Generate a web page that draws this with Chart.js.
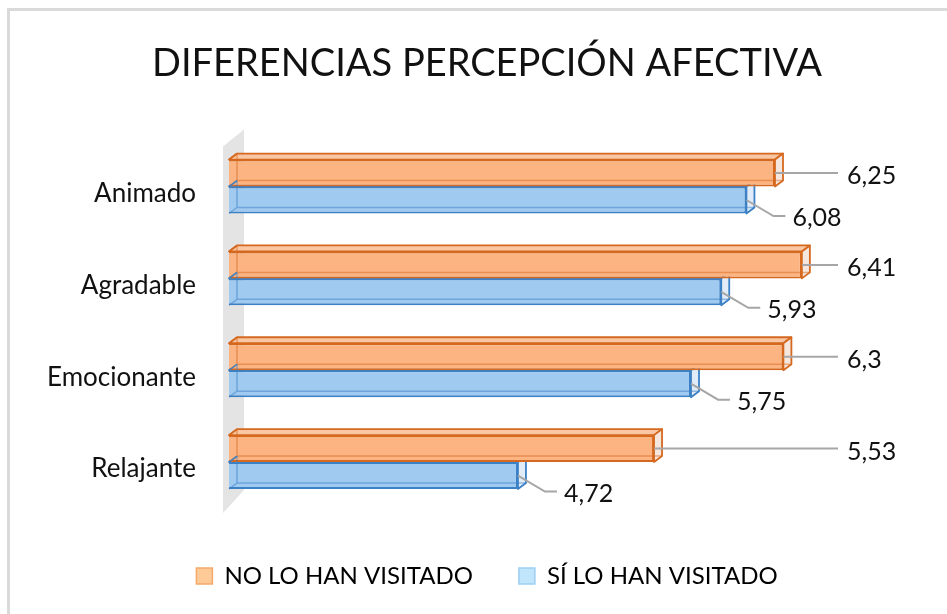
<!DOCTYPE html>
<html>
<head>
<meta charset="utf-8">
<script src="https://cdn.jsdelivr.net/npm/chart.js@4.4.0/dist/chart.umd.min.js"></script>
<style>
  html, body { margin: 0; padding: 0; background: #fff; }
</style>
</head>
<body>
<canvas id="chart" width="947" height="614"></canvas>
<script>
// Datos del gráfico
const categorias = ['Animado', 'Agradable', 'Emocionante', 'Relajante'];
const noVisitado = [6.25, 6.41, 6.3, 5.53];
const siVisitado = [6.08, 5.93, 5.75, 4.72];
const nombresSeries = ['NO LO HAN VISITADO', 'SÍ LO HAN VISITADO'];
const ejeMin = 3;
const ejeMax = 7;

const FUENTE = 'Lato, "Open Sans", sans-serif';
const DX = 8, DY = -6; // profundidad del efecto 3D

// colores por serie (cara frontal, superior, lateral, borde, leyenda)
const estilos = [
    { front: '#fbb482', top: '#f9c7a3', end: '#f5e6de', edge: '#d5691f', hidden: 'rgba(213,105,31,0.5)', legFill: '#fdca98', legEdge: '#f5a96b' },
    { front: '#a0caf0', top: '#c0dbf4', end: '#e1ecf8', edge: '#3c80c5', hidden: 'rgba(60,128,197,0.5)', legFill: '#c1e6fc', legEdge: '#9ccff2' }
];

const coma = v => String(v).replace('.', ',');

function poly(ctx, pts, fill, stroke) {
    ctx.beginPath();
    ctx.moveTo(pts[0][0], pts[0][1]);
    for (let i = 1; i < pts.length; i++) ctx.lineTo(pts[i][0], pts[i][1]);
    ctx.closePath();
    if (fill) { ctx.fillStyle = fill; ctx.fill(); }
    if (stroke) { ctx.strokeStyle = stroke; ctx.stroke(); }
}

// fondo y marco
const marco = {
    id: 'marco',
    beforeDraw(chart) {
        const ctx = chart.ctx;
        ctx.save();
        ctx.fillStyle = '#fff';
        ctx.fillRect(0, 0, chart.width, chart.height);
        ctx.fillStyle = '#dadada';
        ctx.fillRect(7, 8, chart.width - 7, 3);
        ctx.fillRect(7, 8, 3, chart.height - 8);
        ctx.restore();
    }
};

// pared gris + caras superior y lateral de las barras (detrás de la cara frontal)
const barras3d = {
    id: 'barras3d',
    beforeDatasetsDraw(chart) {
        const ctx = chart.ctx;
        const ca = chart.chartArea;
        ctx.save();
        poly(ctx, [[ca.left - 6, ca.top + 6], [ca.left + 15, ca.top - 11], [ca.left + 15, ca.bottom - 18], [ca.left - 6, ca.bottom + 5]], '#e4e4e4');
        ctx.lineWidth = 1.8;
        ctx.lineJoin = 'round';
        [1, 0].forEach(di => {
            const st = estilos[di];
            chart.getDatasetMeta(di).data.forEach(bar => {
                const L = Math.max(bar.base, ca.left), R = bar.x;
                const T = bar.y - bar.height / 2, B = bar.y + bar.height / 2;
                poly(ctx, [[L, T], [R, T], [R + DX, T + DY], [L + DX, T + DY]], st.top, st.edge);
                poly(ctx, [[R, T], [R + DX, T + DY], [R + DX, B + DY], [R, B]], st.end, st.edge);
            });
        });
        ctx.restore();
    },
    afterDatasetsDraw(chart) {
        const ctx = chart.ctx;
        const ca = chart.chartArea;
        ctx.save();
        ctx.lineWidth = 1.5;
        [0, 1].forEach(di => {
            const st = estilos[di];
            chart.getDatasetMeta(di).data.forEach(bar => {
                const L = Math.max(bar.base, ca.left), R = bar.x;
                const T = bar.y - bar.height / 2, B = bar.y + bar.height / 2;
                // aristas ocultas (semi transparentes)
                ctx.strokeStyle = st.hidden;
                ctx.beginPath();
                ctx.moveTo(L + DX, T + DY);
                ctx.lineTo(L + DX, B + DY);
                ctx.lineTo(R + DX, B + DY);
                ctx.moveTo(L, B);
                ctx.lineTo(L + DX, B + DY);
                ctx.stroke();
                ctx.strokeStyle = st.edge;
                ctx.beginPath();
                ctx.moveTo(L, T);
                ctx.lineTo(L + DX, T + DY);
                ctx.stroke();
            });
        });

        // etiquetas de datos con líneas guía
        ctx.font = '25px ' + FUENTE;
        ctx.fillStyle = '#111';
        ctx.textBaseline = 'middle';
        ctx.textAlign = 'left';
        ctx.strokeStyle = '#a6a6a6';
        ctx.lineWidth = 2;
        chart.getDatasetMeta(0).data.forEach((bar, i) => {
            const xt = ca.right - 54;
            ctx.beginPath();
            ctx.moveTo(bar.x, bar.y);
            ctx.lineTo(xt - 9, bar.y);
            ctx.stroke();
            ctx.fillText(coma(noVisitado[i]), xt, bar.y + 3);
        });
        chart.getDatasetMeta(1).data.forEach((bar, i) => {
            const yl = bar.y + 16;
            ctx.beginPath();
            ctx.moveTo(bar.x, bar.y);
            ctx.lineTo(bar.x + 27, yl);
            ctx.lineTo(bar.x + 39, yl);
            ctx.stroke();
            ctx.fillText(coma(siVisitado[i]), bar.x + 46, yl + 2);
        });
        ctx.restore();
    }
};

new Chart(document.getElementById('chart'), {
    type: 'bar',
    data: {
        labels: categorias,
        datasets: [
            {
                label: nombresSeries[0],
                data: noVisitado,
                backgroundColor: estilos[0].front,
                borderColor: estilos[0].edge,
                borderWidth: 2,
                categoryPercentage: 0.587,
                barPercentage: 1.0
            },
            {
                label: nombresSeries[1],
                data: siVisitado,
                backgroundColor: estilos[1].front,
                borderColor: estilos[1].edge,
                borderWidth: 2,
                categoryPercentage: 0.587,
                barPercentage: 1.0
            }
        ]
    },
    options: {
        indexAxis: 'y',
        responsive: false,
        animation: false,
        layout: { padding: { left: 40, right: 13, top: 0, bottom: 16 } },
        scales: {
            x: {
                min: ejeMin,
                max: ejeMax,
                ticks: { display: false },
                grid: { display: false, drawTicks: false },
                border: { display: false },
                afterFit(scale) { scale.height = 10; }
            },
            y: {
                grid: { display: false, drawTicks: false },
                border: { display: false },
                ticks: {
                    color: '#111',
                    font: { family: FUENTE, size: 26 },
                    padding: 33,
                    labelOffset: 7
                },
                afterFit(scale) { scale.width = 189; }
            },
            // eje derecho vacío: solo reserva el espacio de las etiquetas
            yDer: {
                type: 'category',
                position: 'right',
                grid: { display: false, drawTicks: false },
                border: { display: false },
                ticks: { display: false },
                afterFit(scale) { scale.width = 33; }
            }
        },
        plugins: {
            title: {
                display: true,
                text: 'DIFERENCIAS PERCEPCIÓN AFECTIVA',
                color: '#111',
                font: { family: FUENTE, size: 38, weight: 'normal', lineHeight: 1.2 },
                padding: { top: 41, bottom: 54 }
            },
            legend: {
                position: 'bottom',
                labels: {
                    color: '#111',
                    font: { family: FUENTE, size: 24 },
                    boxWidth: 16,
                    boxHeight: 16,
                    padding: 46,
                    generateLabels() {
                        return nombresSeries.map((n, i) => ({
                            text: n,
                            fillStyle: estilos[i].legFill,
                            strokeStyle: estilos[i].legEdge,
                            lineWidth: 1.5,
                            hidden: false,
                            datasetIndex: i
                        }));
                    }
                }
            },
            tooltip: { enabled: false }
        }
    },
    plugins: [marco, barras3d]
});
</script>
</body>
</html>
